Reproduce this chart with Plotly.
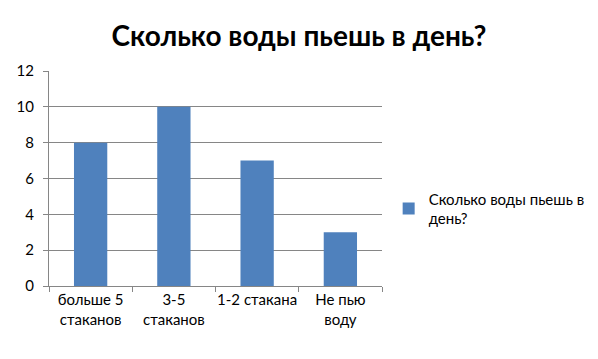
import plotly.graph_objects as go

categories = ["больше 5<br>стаканов", "3-5<br>стаканов", "1-2 стакана", "Не пью<br>воду"]
values = [8, 10, 7, 3]
series_name = "Сколько воды пьешь в<br>день?"
title_text = "Сколько воды пьешь в день?"

font_family = "Lato, Open Sans, sans-serif"

fig = go.Figure()
fig.add_trace(go.Bar(
    x=categories, y=values, name=series_name,
    marker=dict(color="#4F81BD", line=dict(width=0)),
    showlegend=True,
))

fig.update_layout(
    width=598, height=359,
    margin=dict(l=49, r=216, t=71, b=73, autoexpand=False),
    paper_bgcolor="white", plot_bgcolor="white",
    title=dict(text="<b>" + title_text + "</b>", x=0.5, xanchor="center",
               y=0.9, yanchor="middle",
               font=dict(family=font_family, size=28, color="black")),
    font=dict(family=font_family, size=15, color="black"),
    bargap=0.6,
    showlegend=True,
    legend=dict(x=1.02, xanchor="left", y=0.36, yanchor="middle",
                font=dict(size=15, color="black"),
                itemsizing="constant", bgcolor="rgba(0,0,0,0)"),
    xaxis=dict(showline=True, linecolor="#868686", linewidth=1, automargin=False,
               ticks="outside", tickson="boundaries", ticklen=5, tickcolor="#868686",
               showgrid=False, tickangle=0, tickfont=dict(size=15)),
    yaxis=dict(range=[0, 12], dtick=2, showline=True, linecolor="#868686", linewidth=1,
               automargin=False, ticklabelstandoff=6,
               ticks="outside", ticklen=5, tickcolor="#868686",
               showgrid=True, gridcolor="#868686", gridwidth=1, zeroline=False,
               tickfont=dict(size=15)),
)

fig.write_html("out.html")
